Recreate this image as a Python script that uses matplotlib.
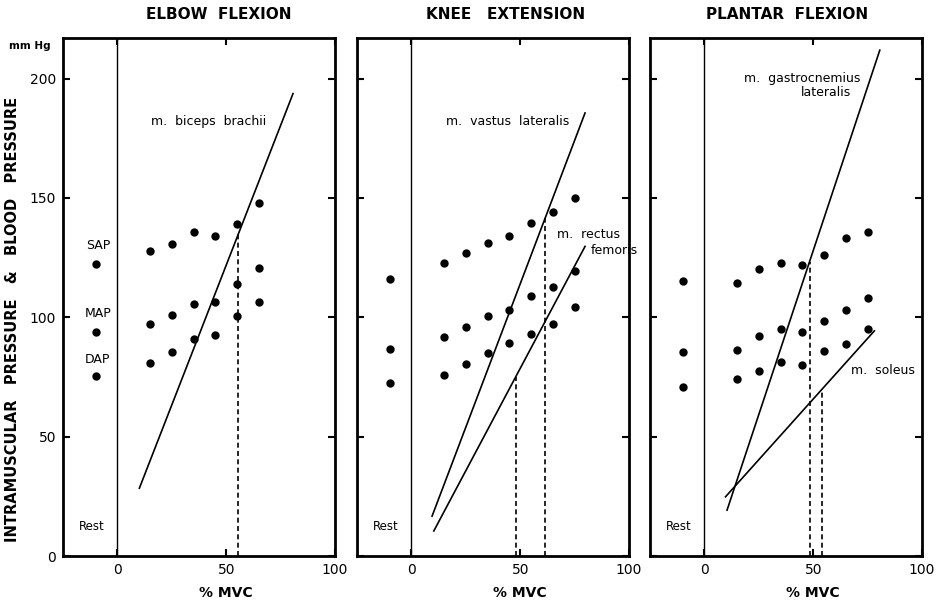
import numpy as np
import matplotlib.pyplot as plt

plt.rcParams['font.family'] = ['DejaVu Sans']

# ============ 数据 ============
# 运动强度 (%MVC) 与静息位置
rest_x = -10
mvc_elbow = [15, 25, 35, 45, 55, 65]
mvc_leg = [15, 25, 35, 45, 55, 65, 75]

# 肘屈：血压 (SAP / MAP / DAP) 及静息值
elbow_rest = [122.4, 93.9, 75.4]
elbow_sap = [127.9, 130.8, 135.8, 134.1, 139.2, 148.0]
elbow_map = [97.2, 101.0, 105.4, 106.5, 114.0, 120.7]
elbow_dap = [80.9, 85.5, 90.9, 92.6, 100.6, 106.5]

# 膝伸
knee_rest = [116.0, 86.7, 72.5]
knee_sap = [122.7, 127.1, 131.3, 134.1, 139.5, 144.2, 150.1]
knee_map = [91.8, 96.0, 100.7, 103.1, 109.0, 112.5, 119.2]
knee_dap = [75.7, 80.3, 84.9, 89.4, 93.2, 97.1, 104.2]

# 跖屈
plantar_rest = [115.0, 85.6, 70.7]
plantar_sap = [114.3, 120.2, 122.9, 122.0, 126.2, 133.4, 135.7]
plantar_map = [86.3, 92.2, 95.0, 93.8, 98.6, 103.1, 108.0]
plantar_dap = [74.0, 77.4, 81.2, 80.0, 85.9, 88.7, 95.0]

# 肌内压回归线 (端点: %MVC, mmHg)
biceps_x, biceps_y = [10.1, 80.7], [28.4, 193.7]
vastus_x, vastus_y = [9.5, 79.8], [16.7, 185.6]
rectus_x, rectus_y = [10.3, 79.8], [10.5, 129.7]
gastro_x, gastro_y = [10.4, 80.6], [19.2, 211.9]
soleus_x, soleus_y = [9.7, 78.1], [24.8, 94.3]

# 肌内压与平均动脉压相等时的 %MVC
biceps_cross = 55.5
vastus_cross = 61.5
rectus_cross = 48.0
gastro_cross = 48.3
soleus_cross = 54.0
# ==============================

fig = plt.figure(figsize=(9.38, 6.05), dpi=100)
lefts = [63 / 938, 357 / 938, 650 / 938]
axes = [fig.add_axes([l, 49 / 605, 272 / 938, 518 / 605]) for l in lefts]


def setup_axis(ax, title, title_x, show_y):
    ax.set_xlim(-25, 100)
    ax.set_ylim(0, 217)
    ax.set_xticks([0, 50, 100])
    ax.set_yticks([0, 50, 100, 150, 200])
    ax.tick_params(direction='in', top=True, right=True, length=5, width=1.5,
                   labelsize=10, pad=5, labelleft=show_y)
    for sp in ax.spines.values():
        sp.set_linewidth(2)
    ax.axvline(0, color='k', lw=1)
    ax.text(title_x, 1.045, title, transform=ax.transAxes, ha='center',
            va='center', fontsize=11, fontweight='bold')
    ax.set_xlabel('% MVC', fontsize=10, fontweight='bold')
    ax.xaxis.set_label_coords(0.6, -0.058)
    ax.text(-12, 12.5, 'Rest', ha='center', va='center', fontsize=8.5)


def draw_pressures(ax, x, rest, sap, mapp, dap):
    ax.plot([rest_x] * 3, rest, 'o', color='k', ms=5, zorder=3)
    for series in (sap, mapp, dap):
        ax.plot(x[:len(series)], series, 'o', color='k', ms=5, zorder=3)


def draw_muscle(ax, lx, ly, cross):
    ax.plot(lx, ly, color='k', lw=1.2)
    top = np.interp(cross, lx, ly)
    ax.plot([cross, cross], [0, top], color='k', lw=1.2, ls=(0, (3, 2)))


# 肘屈
ax = axes[0]
setup_axis(ax, 'ELBOW  FLEXION', 0.574, True)
draw_pressures(ax, mvc_elbow, elbow_rest, elbow_sap, elbow_map, elbow_dap)
draw_muscle(ax, biceps_x, biceps_y, biceps_cross)
ax.text(42, 182, 'm.  biceps  brachii', ha='center', va='center', fontsize=9)
for lbl, yy in zip(['SAP', 'MAP', 'DAP'], [130, 101.4, 82.5]):
    ax.text(-9, yy, lbl, ha='center', va='center', fontsize=9)
ax.text(-0.2, 0.995, 'mm Hg', transform=ax.transAxes, ha='left', va='top',
        fontsize=7.5, fontweight='bold')
ax.set_ylabel('INTRAMUSCULAR   PRESSURE   &   BLOOD   PRESSURE',
              fontsize=10.5, fontweight='bold')
ax.yaxis.set_label_coords(-0.157, 0.457)

# 膝伸
ax = axes[1]
setup_axis(ax, 'KNEE   EXTENSION', 0.548, False)
draw_pressures(ax, mvc_leg, knee_rest, knee_sap, knee_map, knee_dap)
draw_muscle(ax, vastus_x, vastus_y, vastus_cross)
draw_muscle(ax, rectus_x, rectus_y, rectus_cross)
ax.text(44, 182, 'm.  vastus  lateralis', ha='center', va='center', fontsize=9)
ax.text(67, 134.6, 'm.  rectus', ha='left', va='center', fontsize=9)
ax.text(82.5, 128, 'femoris', ha='left', va='center', fontsize=9)

# 跖屈
ax = axes[2]
setup_axis(ax, 'PLANTAR  FLEXION', 0.504, False)
draw_pressures(ax, mvc_leg, plantar_rest, plantar_sap, plantar_map, plantar_dap)
draw_muscle(ax, gastro_x, gastro_y, gastro_cross)
draw_muscle(ax, soleus_x, soleus_y, soleus_cross)
ax.text(71.7, 200, 'm.  gastrocnemius', ha='right', va='center', fontsize=9)
ax.text(67.4, 194, 'lateralis', ha='right', va='center', fontsize=9)
ax.text(67.6, 77.9, 'm.  soleus', ha='left', va='center', fontsize=9)

fig.savefig('out.png', dpi=100)
